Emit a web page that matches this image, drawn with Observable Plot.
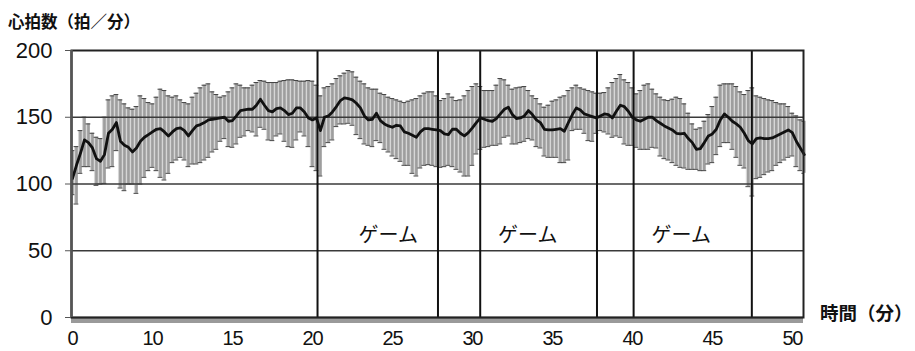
<!DOCTYPE html>
<html><head><meta charset="utf-8">
<script src="https://cdn.jsdelivr.net/npm/d3@7"></script>
<script src="https://cdn.jsdelivr.net/npm/@observablehq/plot@0.6"></script>
<style>
body{margin:0;background:#fff;}
#wrap{position:relative;width:915px;height:351px;font-family:"Noto Sans CJK JP",sans-serif;color:#111;}
#wrap svg{position:absolute;left:0;top:0;}
#ytitle{position:absolute;left:8px;top:8px;font-size:16.5px;font-weight:bold;line-height:26px;z-index:2;white-space:nowrap;}
#xtitle{position:absolute;left:820px;top:299px;font-size:18.5px;font-weight:bold;line-height:26px;z-index:2;white-space:nowrap;}
g[aria-label="x-axis tick label"] text{letter-spacing:-1.2px;}
</style></head>
<body>
<div id="wrap"><div id="ytitle">心拍数（拍／分）</div><div id="xtitle">時間（分）</div></div>
<script>
// sample times (minutes, axis position)
const minutes = [
5,5.25,5.5,5.75, 6,6.25,6.5,6.75, 7,7.25,7.5,7.75, 8,8.25,8.5,8.75, 9,9.25,9.5,9.75,
10,10.25,10.5,10.75, 11,11.25,11.5,11.75, 12,12.25,12.5,12.75, 13,13.25,13.5,13.75, 14,14.25,14.5,14.75,
15,15.25,15.5,15.75, 16,16.25,16.5,16.75, 17,17.25,17.5,17.75, 18,18.25,18.5,18.75, 19,19.25,19.5,19.75,
20,20.25,20.5,20.75, 21,21.25,21.5,21.75, 22,22.25,22.5,22.75, 23,23.25,23.5,23.75, 24,24.25,24.5,24.75,
25,25.25,25.5,25.75, 26,26.25,26.5,26.75, 27,27.25,27.5,27.75, 28,28.25,28.5,28.75, 29,29.25,29.5,29.75,
30,30.25,30.5,30.75, 31,31.25,31.5,31.75, 32,32.25,32.5,32.75, 33,33.25,33.5,33.75, 34,34.25,34.5,34.75,
35,35.25,35.5,35.75, 36,36.25,36.5,36.75, 37,37.25,37.5,37.75, 38,38.25,38.5,38.75, 39,39.25,39.5,39.75,
40,40.25,40.5,40.75, 41,41.25,41.5,41.75, 42,42.25,42.5,42.75, 43,43.25,43.5,43.75, 44,44.25,44.5,44.75,
45,45.25,45.5,45.75, 46,46.25,46.5,46.75, 47,47.25,47.5,47.75, 48,48.25,48.5,48.75, 49,49.25,49.5,49.75,
50,50.25,50.5,50.75];
// mean heart rate
const meanHR = [
104,114,123,133, 131,127,119,117, 122,138,141,146, 132,129,127.5,124, 127,132,135,137,
139,141,141.5,139, 136,139,141.5,142, 140,136,140,143.5, 144.5,146,148,148.5, 149,149.5,150,147,
147.5,151,155,155.5, 156,156,159,163.5, 159,155,154,156.5, 157,155,152,153, 157,157,154,149.5,
148,149.5,140,150, 151,154,158,162.5, 164.5,164,163,160.5, 157,151,148,148.5, 153,147.5,145,143.5,
142.5,144,143.5,139, 138,136.5,135,139, 141.5,141.5,141,140.5, 140,137.5,137,141, 141,138,136,138.5,
142,146,149.5,148.5, 147.5,147,149,152.5, 156,157.5,152,149, 149.5,151,155,152, 148,146,141,140.5,
140.5,141,141.5,139.5, 146,152,157,155.5, 152.5,151.5,150.5,149.5, 151,152.5,152,149.5, 154.5,159,158,154.5,
150,148,147,148.5, 150,150,147.5,145.5, 143.5,142,140.5,138, 137.5,138,134,131, 126,126.5,131,136,
137.5,141,148,152.5, 150,147,145,142.5, 138,132.5,130,134, 134.5,134,134,134.5, 136,137.5,139,140.5,
138.5,132,127,122];
// upper end of error bar
const upperHR = [
125,128,140,150, 145,138,135,134, 150,163,166,167, 163,160,157,156, 158,166,164,161,
160,165,171,170, 166,165,166,163, 161,160,165,168, 172,174,175,169, 167,165,166,169,
172,175,174,172, 172,174,176,177.5, 177,176,176,176, 177,177.5,178,178, 177.5,177,177,177.5,
177,174,166,172, 173,175,179,181, 183,185,184,180, 177,175,172,171, 171,168,167,165,
164,163,162,161, 162,163,164,166, 168,169,169,166, 162.5,164,167.5,165, 162.5,163,166,170,
173,175,173,170, 170,170,174,179, 178,174,171,172, 172.5,173,170,166, 164,160,157.5,159,
162,163,165,166, 170,172,174,172, 171,170,169,168, 168,168.5,172,176, 179,182,178,176,
172,167.5,170,174, 175,171,167.5,165, 163,162.5,163.5,165, 164,160,153,145, 141,142,147,152,
158,165,174,175, 175,175,173,169, 167,170,172,166, 165,164,163,162.5, 161,160,160,158,
153,151,148,147];
// lower end of error bar
const lowerHR = [
92,85,108,113, 113,110,99,100, 100.5,112,113,125, 97,95,100,100, 93,100,105,110,
112.5,110,105,103, 108,116,118,120, 118,113,115,115, 116,118,120,124, 126,132,134,128,
127.5,130,135,136, 140,139,136,142.5, 141,133,132.5,136, 137.5,132,128,127.5, 133,139,136,128,
113,110,106,128, 131,133,143,145, 145,145.5,144,137, 134,130,129,128, 132.5,131,126,124,
121,119,117,114, 114,108,106,112, 114,114.5,114,113, 112.5,113,114,113, 111,109,106,106,
114,122.5,126,127.5, 128,129,129,130, 135,136,130,130, 131,132,134,133, 128,127,121,120,
120,120,116,116, 118,140,141,141, 138,132.5,132,138, 140,139,137.5,135, 136,135,130,129,
129,127.5,126,126, 126,127.5,127,121, 119,118,116,114, 112.5,112,111,111, 111,110,110,115,
116,122,128,131, 131,126,120,114, 112,98,91,104, 105,107,109,110, 114,116,118,120,
121,113,110,108];
// phase boundaries (minutes, axis position)
const boundaries = [20.32, 27.85, 30.49, 37.79, 40.08, 47.47];
// game labels
const gameLabels = ["ゲーム", "ゲーム", "ゲーム"];
const gameX = [24.74, 33.46, 43.06];
const gameY = [61, 61, 61];
// axis ticks
const xTickValues = [5, 10, 15, 20, 25, 30, 35, 40, 45, 50];
const xTickLabels = ["0", "10", "15", "20", "25", "30", "35", "40", "45", "50"];
const yTicks = [0, 50, 100, 150, 200];
const yGrid = [50, 100, 150];

const data = minutes.map((t, i) => ({t, m: meanHR[i], hi: upperHR[i], lo: lowerHR[i]}));
const games = gameLabels.map((s, i) => ({s, x: gameX[i], y: gameY[i]}));
const xLabelMap = new Map(xTickValues.map((v, i) => [v, xTickLabels[i]]));
const capHalf = 0.15;

const chart = Plot.plot({
  width: 915, height: 351,
  marginLeft: 71, marginRight: 112, marginTop: 50, marginBottom: 34,
  x: {domain: [4.94, 50.7]},
  y: {domain: [0, 200]},
  style: {background: "transparent", color: "#111"},
  marks: [
    Plot.ruleY([0], {stroke: "#9a9a9a", strokeWidth: 5, dy: 3}),
    Plot.areaY(data, {x: "t", y1: "lo", y2: "hi", fill: "#d6d6d6", curve: "step"}),
    Plot.ruleX(data, {x: "t", y1: "lo", y2: "hi", stroke: "#9e9e9e", strokeWidth: 2.6}),
    Plot.ruleY(data, {x1: d => d.t - capHalf, x2: d => d.t + capHalf, y: "hi", stroke: "#444", strokeWidth: 1, clip: "frame"}),
    Plot.ruleY(data, {x1: d => d.t - capHalf, x2: d => d.t + capHalf, y: "lo", stroke: "#444", strokeWidth: 1, clip: "frame"}),
    Plot.ruleY(yGrid, {stroke: "#3a3a3a", strokeWidth: 1.3}),
    Plot.ruleY([0], {stroke: "#333", strokeWidth: 1.5}),
    Plot.ruleX(boundaries, {y1: 0, y2: 200, stroke: "#111", strokeWidth: 2}),
    Plot.lineY(data, {x: "t", y: "m", stroke: "#111", strokeWidth: 2.8}),
    Plot.frame({stroke: "#222", strokeWidth: 2}),
    Plot.ruleX([4.94], {y1: 0, y2: 200, stroke: "#555", strokeWidth: 2.5}),
    Plot.text(games, {x: "x", y: "y", text: "s", fontSize: 20, fontFamily: "Noto Sans CJK JP", fill: "#111"}),
    Plot.axisY({ticks: yTicks, tickSize: 6, tickPadding: 13, fontSize: 22, fontFamily: "Liberation Sans, Arial, sans-serif", label: null, stroke: "#555"}),
    Plot.axisX({ticks: xTickValues, tickFormat: d => xLabelMap.get(d), tickSize: 0, tickPadding: 13, fontSize: 20, fontFamily: "Liberation Sans, Arial, sans-serif", label: null})
  ]
});
document.getElementById("wrap").appendChild(chart);
</script>
</body></html>
